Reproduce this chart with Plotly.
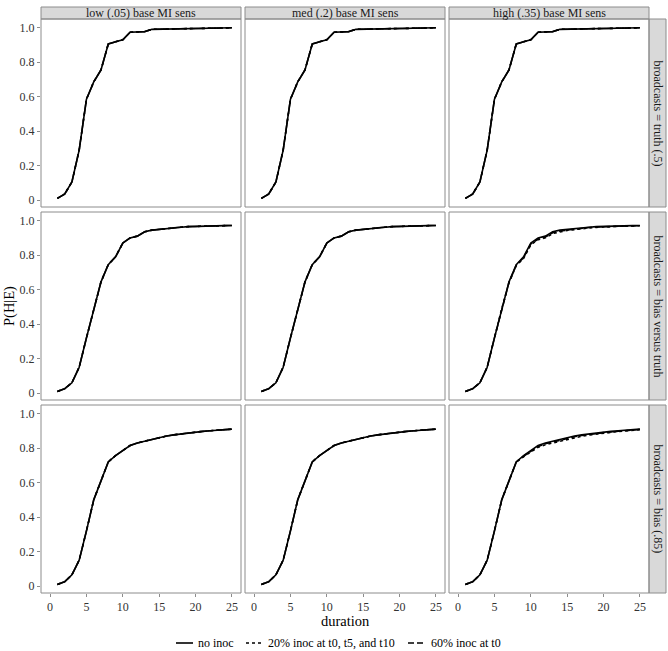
import plotly.graph_objects as go

W, H = 668, 651

duration = list(range(1, 26))

col_labels = ["low (.05) base MI sens", "med (.2) base MI sens", "high (.35) base MI sens"]
row_labels = ["broadcasts = truth (.5)", "broadcasts = bias versus truth", "broadcasts = bias (.85)"]
series_names = ["no inoc", "20% inoc at t0, t5, and t10", "60% inoc at t0"]

truth_all = [0.01, 0.035, 0.105, 0.29, 0.585, 0.685, 0.755, 0.905, 0.918, 0.93, 0.973, 0.975, 0.977,
             0.99, 0.991, 0.993, 0.995, 0.996, 0.997, 0.997, 0.998, 0.998, 0.998, 0.999, 0.999]

bvt_no_inoc = [0.01, 0.025, 0.06, 0.15, 0.32, 0.49, 0.645, 0.745, 0.79, 0.87, 0.90, 0.91, 0.935,
               0.945, 0.95, 0.955, 0.96, 0.962, 0.965, 0.967, 0.968, 0.969, 0.97, 0.971, 0.972]
bvt_inoc20_high = [0.01, 0.025, 0.06, 0.15, 0.32, 0.49, 0.64, 0.74, 0.78, 0.86, 0.89, 0.90, 0.925,
                   0.935, 0.943, 0.948, 0.954, 0.957, 0.961, 0.964, 0.966, 0.967, 0.968, 0.969, 0.97]
bvt_inoc60_high = [0.01, 0.025, 0.06, 0.15, 0.32, 0.49, 0.642, 0.742, 0.785, 0.865, 0.893, 0.905, 0.93,
                   0.94, 0.946, 0.951, 0.957, 0.96, 0.963, 0.965, 0.967, 0.968, 0.969, 0.97, 0.971]

bias_no_inoc = [0.01, 0.025, 0.065, 0.15, 0.32, 0.5, 0.61, 0.72, 0.757, 0.785, 0.815, 0.83, 0.84,
                0.852, 0.862, 0.87, 0.877, 0.883, 0.888, 0.893, 0.897, 0.901, 0.904, 0.907, 0.91]
bias_inoc20_high = [0.01, 0.025, 0.065, 0.15, 0.32, 0.5, 0.61, 0.72, 0.75, 0.777, 0.805, 0.82, 0.83,
                    0.843, 0.853, 0.862, 0.869, 0.876, 0.882, 0.887, 0.892, 0.896, 0.9, 0.904, 0.907]
bias_inoc60_high = [0.01, 0.025, 0.065, 0.15, 0.32, 0.5, 0.61, 0.72, 0.753, 0.781, 0.81, 0.825, 0.835,
                    0.848, 0.858, 0.866, 0.873, 0.88, 0.885, 0.89, 0.894, 0.898, 0.902, 0.905, 0.908]

y_tickvals = [0, 0.2, 0.4, 0.6, 0.8, 1.0]
y_ticktext = ["0", "0.2", "0.4", "0.6", "0.8", "1.0"]
x_tickvals = [0, 5, 10, 15, 20, 25]

panels = [
    [(truth_all, truth_all, truth_all)] * 3,
    [(bvt_no_inoc, bvt_no_inoc, bvt_no_inoc),
     (bvt_no_inoc, bvt_no_inoc, bvt_no_inoc),
     (bvt_no_inoc, bvt_inoc20_high, bvt_inoc60_high)],
    [(bias_no_inoc, bias_no_inoc, bias_no_inoc),
     (bias_no_inoc, bias_no_inoc, bias_no_inoc),
     (bias_no_inoc, bias_inoc20_high, bias_inoc60_high)],
]

dashes = ["solid", "3px,3px", "6px,3px"]

FONT = "Liberation Serif"
GRAY = "#8c8c8c"
TXT = "#333333"

col_px = [(41, 241), (245, 445), (449, 649)]
row_px = [(19, 207), (212, 400), (405, 593)]
strip_top = (7, 19)
strip_right = (649, 666)


def px(x):
    return x / W


def py(y):
    return 1 - y / H


fig = go.Figure()
layout = {}
shapes = []
annotations = []

k = 0
for r in range(3):
    for c in range(3):
        k += 1
        xa = "x" if k == 1 else f"x{k}"
        ya = "y" if k == 1 else f"y{k}"
        for s in range(3):
            fig.add_trace(go.Scatter(
                x=duration, y=panels[r][c][s], mode="lines",
                line=dict(color="black", width=1.6, dash=dashes[s]),
                name=series_names[s], showlegend=False,
                xaxis=xa, yaxis=ya, hoverinfo="skip"))
        xkey = "xaxis" if k == 1 else f"xaxis{k}"
        ykey = "yaxis" if k == 1 else f"yaxis{k}"
        x0, x1 = col_px[c]
        y0, y1 = row_px[r]
        layout[xkey] = dict(
            domain=[px(x0), px(x1)], anchor=ya, range=[-1.25, 26.25],
            showgrid=False, zeroline=False, showline=False,
            tickvals=x_tickvals, ticks="outside" if r == 2 else "",
            ticklen=3, tickcolor=GRAY, showticklabels=(r == 2),
            tickfont=dict(family=FONT, size=12, color=TXT))
        layout[ykey] = dict(
            domain=[py(y1), py(y0)], anchor=xa, range=[-0.04, 1.05],
            showgrid=False, zeroline=False, showline=False,
            tickvals=y_tickvals, ticktext=y_ticktext,
            ticks="outside" if c == 0 else "", ticklen=3, tickcolor=GRAY,
            showticklabels=(c == 0),
            tickfont=dict(family=FONT, size=12, color=TXT))
        shapes.append(dict(type="rect", xref="paper", yref="paper",
                           x0=px(x0), x1=px(x1), y0=py(y1), y1=py(y0),
                           line=dict(color=GRAY, width=1), layer="above"))

for c in range(3):
    x0, x1 = col_px[c]
    shapes.append(dict(type="rect", xref="paper", yref="paper",
                       x0=px(x0), x1=px(x1), y0=py(strip_top[1]), y1=py(strip_top[0]),
                       fillcolor="#d9d9d9", line=dict(color=GRAY, width=1), layer="below"))
    annotations.append(dict(xref="paper", yref="paper", x=px((x0 + x1) / 2),
                            y=py((strip_top[0] + strip_top[1]) / 2), text=col_labels[c],
                            showarrow=False, xanchor="center", yanchor="middle",
                            font=dict(family=FONT, size=12, color="#1a1a1a")))
for r in range(3):
    y0, y1 = row_px[r]
    shapes.append(dict(type="rect", xref="paper", yref="paper",
                       x0=px(strip_right[0]), x1=px(strip_right[1]), y0=py(y1), y1=py(y0),
                       fillcolor="#d9d9d9", line=dict(color=GRAY, width=1), layer="below"))
    annotations.append(dict(xref="paper", yref="paper", x=px((strip_right[0] + strip_right[1]) / 2),
                            y=py((y0 + y1) / 2), text=row_labels[r], textangle=90,
                            showarrow=False, xanchor="center", yanchor="middle",
                            font=dict(family=FONT, size=12, color="#1a1a1a")))

annotations.append(dict(xref="paper", yref="paper", x=px(345), y=py(621), text="duration",
                        showarrow=False, xanchor="center", yanchor="middle",
                        font=dict(family=FONT, size=14.5, color="black")))
annotations.append(dict(xref="paper", yref="paper", x=px(9), y=py(306), text="P(H|E)",
                        textangle=-90, showarrow=False, xanchor="center", yanchor="middle",
                        font=dict(family=FONT, size=14.5, color="black")))

# manual legend (ggplot style short keys)
leg_y = 643
leg_keys = [(176, 193, 196), (246, 263, 266), (408, 425, 429)]
for s in range(3):
    kx0, kx1, tx = leg_keys[s]
    shapes.append(dict(type="line", xref="paper", yref="paper",
                       x0=px(kx0), x1=px(kx1), y0=py(leg_y), y1=py(leg_y),
                       line=dict(color="black", width=1.6, dash=dashes[s])))
    annotations.append(dict(xref="paper", yref="paper", x=px(tx), y=py(leg_y),
                            text=series_names[s], showarrow=False, xanchor="left",
                            yanchor="middle", font=dict(family=FONT, size=12, color="black")))

fig.update_layout(
    width=W, height=H, margin=dict(l=0, r=0, t=0, b=0),
    paper_bgcolor="white", plot_bgcolor="white",
    shapes=shapes, annotations=annotations,
    showlegend=False,
    **layout)

fig.write_html("out.html", config={"displayModeBar": False},
               post_script="document.body.style.margin='0px';")
